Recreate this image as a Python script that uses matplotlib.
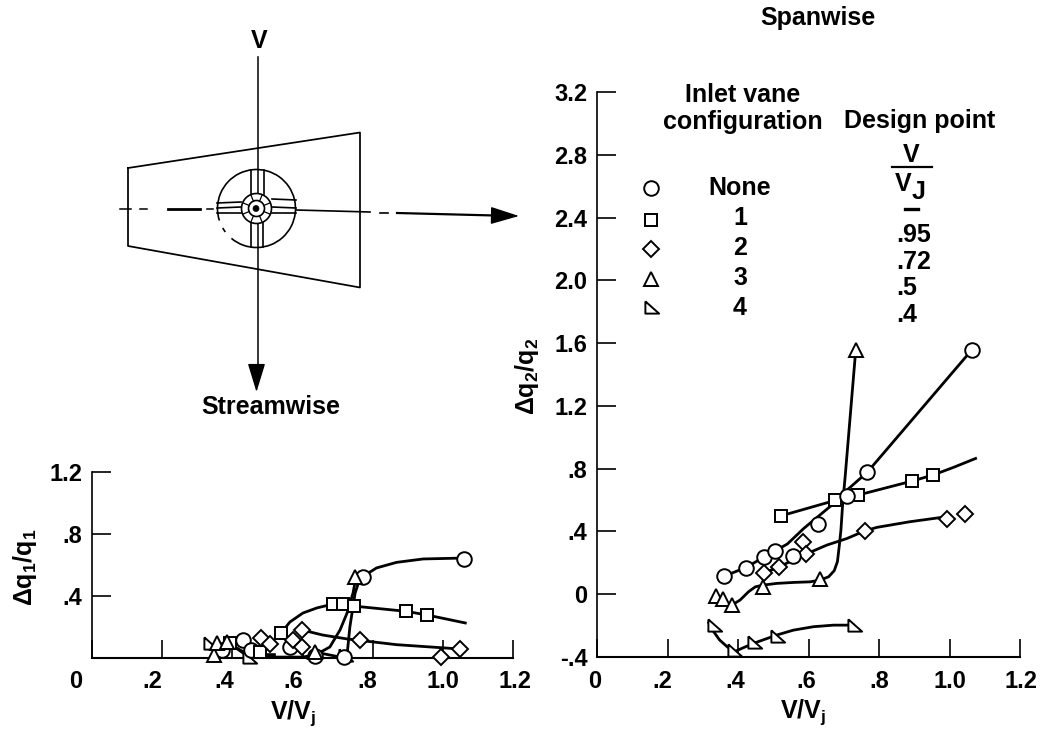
import numpy as np
import matplotlib
matplotlib.use("Agg")
import matplotlib.pyplot as plt
from matplotlib.patches import Arc, Circle
from matplotlib.transforms import ScaledTranslation

plt.rcParams['font.family'] = ['Liberation Sans', 'DejaVu Sans']
plt.rcParams['font.weight'] = 'bold'
plt.rcParams['mathtext.fontset'] = 'custom'
plt.rcParams['mathtext.bf'] = 'Liberation Sans:bold'
plt.rcParams['mathtext.rm'] = 'Liberation Sans:bold'
plt.rcParams['mathtext.default'] = 'bf'

# streamwise panel, points
s_circle_x = [.37, .43, .453, .564, .636, .718, .772, 1.06]
s_circle_y = [.05, .116, .05, .07, .013, .006, .523, .64]
s_square_x = [.393, .479, .539, .687, .716, .746, .896, .956]
s_square_y = [.096, .039, .161, .348, .348, .335, .301, .277]
s_diamond_x = [.482, .507, .573, .598, .598, .764, .994, 1.05]
s_diamond_y = [.129, .09, .116, .181, .071, .116, .006, .058]
s_tri_x = [.348, .357, .384, .636, .75]
s_tri_y = [.02, .096, .105, .04, .524]
s_side_x = [.336, .448, .721]
s_side_y = [.096, .008, .02]

# streamwise panel, faired curves
s_circle_cx = [.77, .811, .868, .944, 1.061]
s_circle_cy = [.523, .581, .617, .639, .645]
s_square_cx = [.539, .564, .601, .641, .687, .746, .896, .956, 1.064]
s_square_cy = [.161, .232, .29, .323, .348, .335, .301, .277, .226]
s_diamond_cx = [.598, .658, .727, .762, .868, 1.05]
s_diamond_cy = [.181, .148, .123, .114, .086, .058]
s_tri_cx = [.384, .422, .459, .6, .636, .678, .707, .727, .744, .752]
s_tri_cy = [.105, .052, .006, .006, .019, .071, .181, .29, .419, .516]
s_tri2_cx = [.65, .707, .727, .735, .75, .764]
s_tri2_cy = [.032, .006, .019, .2, .419, .516]
s_side_cx = [.39, .437, .52]
s_side_cy = [.097, .022, .022]

# spanwise panel, points
w_circle_x = [.361, .422, .475, .504, .556, .626, .709, .767, 1.063]
w_circle_y = [.115, .17, .239, .275, .245, .445, .627, .778, 1.556]
w_square_x = [.523, .676, .741, .894, .954]
w_square_y = [.50, .598, .632, .721, .76]
w_diamond_x = [.475, .515, .583, .593, .759, .992, 1.044]
w_diamond_y = [.136, .173, .332, .256, .403, .479, .509]
w_tri_x = [.338, .357, .384, .471, .633, .734]
w_tri_y = [-.012, -.029, -.067, .048, .096, 1.556]
w_side_x = [.331, .389, .444, .510, .728]
w_side_y = [-.197, -.357, -.303, -.265, -.193]

# spanwise panel, faired curves
w_circle_cx = [.361, .422, .504, .54, .587, .663, .709, .767, 1.063]
w_circle_cy = [.115, .17, .275, .32, .42, .562, .663, .778, 1.556]
w_square_cx = [.523, .676, .741, .894, .954, 1.011, 1.074]
w_square_cy = [.50, .598, .632, .721, .76, .808, .865]
w_diamond_cx = [.475, .515, .593, .652, .709, .759, .794, .888, .992]
w_diamond_cy = [.136, .173, .256, .313, .355, .403, .426, .462, .494]
w_tri_cx = [.384, .406, .43, .449, .471, .51, .557, .605, .633, .657, .673, .682, .687, .692, .697, .704, .734]
w_tri_cy = [-.067, -.037, .016, .047, .058, .069, .075, .079, .09, .111, .15, .207, .302, .409, .578, .749, 1.556]
w_side_cx = [.317, .331, .348, .369, .389, .411, .444, .51, .557, .614, .671, .728]
w_side_cy = [-.182, -.239, -.292, -.334, -.367, -.345, -.313, -.26, -.229, -.207, -.197, -.197]

x_ticks = [0, .2, .4, .6, .8, 1.0, 1.2]
x_labels = ['0', '.2', '.4', '.6', '.8', '1.0', '1.2']
s_y_ticks = [0, .4, .8, 1.2]
s_y_labels = ['', '.4', '.8', '1.2']
w_y_ticks = [-.4, 0, .4, .8, 1.2, 1.6, 2.0, 2.4, 2.8, 3.2]
w_y_labels = ['-.4', '0', '.4', '.8', '1.2', '1.6', '2.0', '2.4', '2.8', '3.2']

configs = ['None', '1', '2', '3', '4']
design_points = ['.95', '.72', '.5', '.4']

W, H = 1042, 735
FS = 17
WORD = 18
SIDE = [(-1, 1), (1.25, -1), (-1, -1), (-1, 1)]
STYLES = {'c': dict(marker='o', ms=10.5),
          's': dict(marker='s', ms=9),
          'd': dict(marker='D', ms=8.6),
          't': dict(marker='^', ms=9.5),
          'r': dict(marker=SIDE, ms=11)}


def pts(ax, x, y, key):
    ax.plot(x, y, ls='none', mfc='white', mec='black', mew=1.4, clip_on=False,
            zorder=4, **STYLES[key])


def curve(ax, x, y):
    ax.plot(x, y, color='black', lw=2.0, clip_on=False, zorder=3, solid_joinstyle='round')


def panel(rect_px, ylim, yticks, ylabels):
    l, r, b, t = rect_px
    ax = fig.add_axes([l / W, 1 - b / H, (r - l) / W, (b - t) / H])
    ax.patch.set_alpha(0)
    ax.set_xlim(0, 1.2)
    ax.set_ylim(*ylim)
    ax.spines['top'].set_visible(False)
    ax.spines['right'].set_visible(False)
    ax.spines['left'].set_linewidth(1.2)
    ax.spines['bottom'].set_linewidth(1.5)
    ax.set_xticks(x_ticks)
    ax.set_xticklabels(x_labels, fontsize=FS, fontweight='bold')
    ax.set_yticks(yticks)
    ax.set_yticklabels(ylabels, fontsize=FS, fontweight='bold')
    ax.tick_params(axis='both', direction='in', length=13, width=1.2)
    ax.tick_params(axis='x', pad=9)
    ax.tick_params(axis='y', pad=7, length=14)
    return ax


fig = plt.figure(figsize=(W / 100, H / 100), dpi=100)

# sketch of the wing, in pixel coordinates
d = fig.add_axes([0, 0, 1, 1])
d.set_xlim(0, W)
d.set_ylim(H, 0)
d.axis('off')
d.plot([128, 360, 360, 128, 128], [168, 132.5, 287.5, 246, 168], color='black', lw=1.25)
d.plot([257.5, 257.5], [57, 372], color='black', lw=1.1)
head = dict(arrowstyle='-|>,head_length=1.8,head_width=0.55', color='black', lw=1.0, shrinkA=0, shrinkB=0)
d.annotate('', xy=(256.5, 392), xytext=(256.5, 366), arrowprops=head)
d.annotate('', xy=(519, 216), xytext=(492, 215.5), arrowprops=head)
for x0, x1, y0, y1, lw in [(120, 131, 209, 209, 1.1), (140, 147, 209, 209, 1.1), (168, 200, 209, 209, 2.0),
                           (207, 213, 209, 209, 1.1), (296, 370, 210, 212, 1.2), (380, 388, 212.5, 212.5, 1.2),
                           (397, 495, 213, 215.5, 1.6)]:
    d.plot([x0, x1], [y0, y1], color='black', lw=lw)
d.add_patch(Arc((256.5, 208.5), 78, 78, theta1=162, theta2=490, ec='black', lw=1.2))
d.add_patch(Arc((256.5, 208.5), 78, 78, theta1=143, theta2=150, ec='black', lw=1.2))
for x0, x1, y0, y1 in [(217, 241, 203, 202), (217, 241, 213, 213), (217, 241, 208, 207),
                       (272, 296, 199, 200), (272, 296, 213, 213), (272, 296, 207, 208)]:
    d.plot([x0, x1], [y0, y1], color='black', lw=1.2)
for x0, x1, y0, y1 in [(251, 251, 170, 194), (264, 264, 170, 194), (251, 251, 222, 247), (263, 263, 222, 247)]:
    d.plot([x0, x1], [y0, y1], color='black', lw=1.2)
d.add_patch(Circle((256.5, 208.5), 15, fc='white', ec='black', lw=1.2, zorder=3))
d.add_patch(Circle((256.5, 208.5), 8, fc='white', ec='black', lw=1.2, zorder=3))
d.add_patch(Circle((256, 208.5), 3, fc='black', ec='black', lw=0.5, zorder=3))
for a in np.radians(np.arange(22.5, 360, 45)):
    d.plot([256.5 + 8 * np.cos(a), 256.5 + 15 * np.cos(a)], [208.5 + 8 * np.sin(a), 208.5 + 15 * np.sin(a)],
           color='black', lw=0.9, zorder=3)

# texts
word = dict(fontsize=WORD, fontweight='bold', ha='center', va='center')
d.text(259, 41, 'V', **word)
d.text(271, 407, 'Streamwise', **word)
d.text(818, 18, 'Spanwise', **word)
d.text(743, 95, 'Inlet vane', **word)
d.text(743, 122, 'configuration', **word)
d.text(920, 121, 'Design point', **word)
d.text(911, 155, 'V', **word)
d.plot([892, 932], [167, 167], color='black', lw=1.6)
d.text(903, 184, 'V', **word)
d.text(919, 192, 'J', **word)
d.plot([905, 918], [209, 209], color='black', lw=2.4)
for i, c in enumerate(configs):
    d.text(740, 188 + i * 30, c, **word)
for i, v in enumerate(design_points):
    d.text(896, 235 + i * 26.6, v, fontsize=WORD, fontweight='bold', ha='left', va='center')
d.text(25, 567, r'$\Delta q_1/q_1$', rotation=90, **word)
d.text(527, 376, r'$\Delta q_2/q_2$', rotation=90, **word)
d.text(293, 713, r'$V/V_j$', **word)
d.text(803, 712, r'$V/V_j$', **word)

for y, key in zip([188, 220, 249, 279, 307], ['c', 's', 'd', 't', 'r']):
    style = dict(STYLES[key])
    d.plot([651], [y], ls='none', mfc='white', mec='black', mew=1.4, **style)

# streamwise
ax1 = panel((92, 513, 658, 472), (0, 1.2), s_y_ticks, s_y_labels)
for x, y in [(s_circle_cx, s_circle_cy), (s_square_cx, s_square_cy), (s_diamond_cx, s_diamond_cy),
             (s_tri_cx, s_tri_cy), (s_tri2_cx, s_tri2_cy), (s_side_cx, s_side_cy)]:
    curve(ax1, x, y)
pts(ax1, s_side_x, s_side_y, 'r')
pts(ax1, s_circle_x, s_circle_y, 'c')
pts(ax1, s_square_x, s_square_y, 's')
pts(ax1, s_diamond_x, s_diamond_y, 'd')
pts(ax1, s_tri_x, s_tri_y, 't')

# spanwise
ax2 = panel((597, 1020, 657, 92), (-.4, 3.2), w_y_ticks, w_y_labels)
for x, y in [(w_circle_cx, w_circle_cy), (w_square_cx, w_square_cy), (w_diamond_cx, w_diamond_cy),
             (w_tri_cx, w_tri_cy), (w_side_cx, w_side_cy)]:
    curve(ax2, x, y)
pts(ax2, w_side_x, w_side_y, 'r')
pts(ax2, w_square_x, w_square_y, 's')
pts(ax2, w_diamond_x, w_diamond_y, 'd')
pts(ax2, w_circle_x, w_circle_y, 'c')
pts(ax2, w_tri_x, w_tri_y, 't')

# printed labels sit a little off their ticks
for ax, shifts in [(ax1, [-16, -10, -8, -9, -5, 0, 2]), (ax2, [-2, -5, -3, -2, 0, 0, 1])]:
    for lab, dx in zip(ax.get_xticklabels(), shifts):
        lab.set_transform(lab.get_transform() + ScaledTranslation(dx / 100, 0, fig.dpi_scale_trans))

fig.savefig('out.png', dpi=100)
